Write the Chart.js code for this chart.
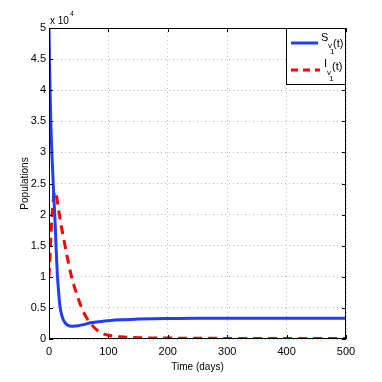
<!DOCTYPE html>
<html>
<head>
<meta charset="utf-8">
<script src="https://cdn.jsdelivr.net/npm/chart.js@4"></script>
<style>
  html, body { margin: 0; padding: 0; background: #fff; }
  #wrap { width: 382px; height: 382px; }
</style>
</head>
<body>
<div id="wrap"><canvas id="miGrafico" width="382" height="382"></canvas></div>
<script>
// values in units of 10^4
const days = [0, 1, 2, 3, 4, 5, 6, 8, 10, 12, 14, 16, 18, 20, 24, 28, 32, 38, 45, 50, 60, 70, 80, 100, 120, 150, 200, 250, 300, 400, 500];
const susceptible = [5.0, 4.4, 3.9, 3.5, 3.2, 2.95, 2.75, 2.3, 1.95, 1.45, 1.05, 0.78, 0.56, 0.44, 0.31, 0.25, 0.22, 0.205, 0.21, 0.215, 0.235, 0.26, 0.275, 0.295, 0.31, 0.32, 0.33, 0.335, 0.335, 0.335, 0.335];

const infDays = [0, 2, 4, 6, 8, 10, 12, 15, 20, 25, 30, 38, 45, 55, 62, 70, 80, 90, 100, 120, 150, 200, 300, 400, 500];
const infected = [1.0, 1.4, 1.8, 2.1, 2.3, 2.37, 2.33, 2.15, 1.85, 1.6, 1.35, 1.0, 0.77, 0.5, 0.36, 0.25, 0.15, 0.09, 0.06, 0.035, 0.02, 0.015, 0.01, 0.01, 0.01];

const yTicks = [0, 0.5, 1, 1.5, 2, 2.5, 3, 3.5, 4, 4.5, 5];
const xTicks = [0, 100, 200, 300, 400, 500];

const FONT = "'Liberation Sans', Arial, sans-serif";

const extras = {
  id: 'extras',
  afterDraw(chart) {
    const c = chart.ctx, a = chart.chartArea;
    const xs = chart.scales.x, ys = chart.scales.y;
    c.save();
    // box
    c.strokeStyle = '#000'; c.lineWidth = 1;
    c.strokeRect(a.left + 0.5, a.top + 0.5, a.right - a.left - 1, a.bottom - a.top - 1);
    // inward ticks
    c.beginPath();
    xTicks.forEach(v => {
      const px = Math.round(xs.getPixelForValue(v)) + 0.5;
      c.moveTo(px, a.bottom); c.lineTo(px, a.bottom - 4);
      c.moveTo(px, a.top); c.lineTo(px, a.top + 4);
    });
    yTicks.forEach(v => {
      const py = Math.round(ys.getPixelForValue(v)) + 0.5;
      c.moveTo(a.left, py); c.lineTo(a.left + 4, py);
      c.moveTo(a.right, py); c.lineTo(a.right - 4, py);
    });
    c.stroke();
    // exponent
    c.fillStyle = '#000';
    c.textBaseline = 'alphabetic';
    c.font = '10px ' + FONT;
    c.fillText('x 10', 50, 24);
    c.font = '7px ' + FONT;
    c.fillText('4', 70, 16);
    // legend box
    const lx = 286, ly = 28, lw = 60, lh = 57;
    c.fillStyle = '#fff';
    c.fillRect(lx, ly, lw, lh);
    c.strokeStyle = '#000';
    c.strokeRect(lx + 0.5, ly + 0.5, lw - 1, lh - 1);
    c.lineWidth = 3;
    c.strokeStyle = '#1f3ff5';
    c.beginPath(); c.moveTo(291, 43); c.lineTo(318, 43); c.stroke();
    c.strokeStyle = '#ff0000';
    c.setLineDash([7, 5]);
    c.beginPath(); c.moveTo(291, 70); c.lineTo(320, 70); c.stroke();
    c.setLineDash([]);
    c.fillStyle = '#000';
    c.font = '11px ' + FONT;
    c.fillText('S', 321, 41);
    c.fillText('(t)', 333, 47);
    c.fillText('I', 324, 67);
    c.fillText('(t)', 332, 70);
    c.font = '8px ' + FONT;
    c.fillText('v', 328, 48);
    c.fillText('1', 330, 54);
    c.fillText('v', 327, 75);
    c.fillText('1', 329, 81);
    c.restore();
  }
};

window.addEventListener("load", () => {
  const ctx = document.querySelector('#miGrafico').getContext('2d');
  new Chart(ctx, {
    type: 'line',
    data: {
      datasets: [
        {
          label: 'S',
          data: days.map((d, i) => ({ x: d, y: susceptible[i] })),
          borderColor: '#1f3ff5',
          borderWidth: 3,
          pointRadius: 0,
          cubicInterpolationMode: 'monotone'
        },
        {
          label: 'I',
          data: infDays.map((d, i) => ({ x: d, y: infected[i] })),
          borderColor: '#ff0000',
          borderWidth: 3,
          borderDash: [9, 6],
          pointRadius: 0,
          cubicInterpolationMode: 'monotone'
        }
      ]
    },
    options: {
      responsive: false,
      animation: false,
      layout: { padding: { top: 28, right: 36, left: 0, bottom: 0 } },
      plugins: { legend: { display: false }, tooltip: { enabled: false } },
      scales: {
        x: {
          type: 'linear', min: 0, max: 500,
          afterBuildTicks: s => { s.ticks = xTicks.map(v => ({ value: v })); },
          afterFit: s => { s.height = 43; },
          grid: { color: '#bdbdbd', drawTicks: false },
          border: { display: false, dash: [1, 3] },
          ticks: { color: '#000', padding: 6, font: { family: FONT, size: 11 } },
          title: { display: true, text: 'Time (days)', color: '#000', padding: { top: 0, bottom: 9 }, font: { family: FONT, size: 10 } }
        },
        y: {
          min: 0, max: 5,
          afterBuildTicks: s => { s.ticks = yTicks.map(v => ({ value: v })); },
          afterFit: s => { s.width = 49; },
          grid: { color: '#bdbdbd', drawTicks: false },
          border: { display: false, dash: [1, 3] },
          ticks: { color: '#000', padding: 3, font: { family: FONT, size: 11 }, callback: v => String(v) },
          title: { display: true, text: 'Populations', color: '#000', padding: { top: 19, bottom: 0 }, font: { family: FONT, size: 10 } }
        }
      }
    },
    plugins: [extras]
  });
});
</script>
</body>
</html>
